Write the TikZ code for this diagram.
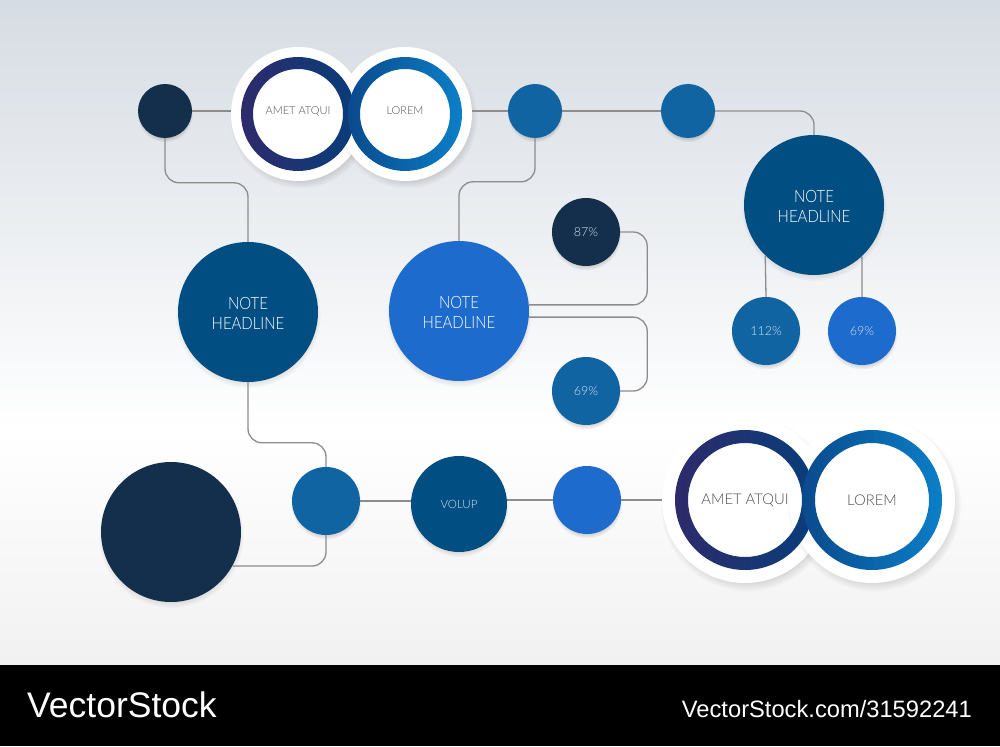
\documentclass[tikz,border=0pt]{standalone}
\usepackage{fontspec}
\setmainfont{Lato Light}
\newfontfamily\wmfont{Liberation Sans}
\usetikzlibrary{shadows,calc}
\definecolor{navy}{HTML}{132F4C}
\definecolor{teal}{HTML}{1064A2}
\definecolor{deep}{HTML}{004E82}
\definecolor{bright}{HTML}{1D6BCD}
\definecolor{conncol}{HTML}{8C8C8C}
\definecolor{bgtop}{HTML}{D6DCE3}
\definecolor{bgbot}{HTML}{F1F1F1}
\definecolor{ringtxt}{HTML}{505050}
\definecolor{pcttxt}{HTML}{D6E4F2}
\definecolor{ringAl}{HTML}{2E2B6B}
\definecolor{ringAr}{HTML}{083D7A}
\definecolor{ringBl}{HTML}{0A4A8D}
\definecolor{ringBr}{HTML}{0B7FC7}
\newcommand{\nh}{\raisebox{-3pt}[\height][\depth]{\scalebox{0.88}[1]{\begin{tabular}{@{}c@{}}NOTE\\[0pt]HEADLINE\end{tabular}}}}
\tikzset{
  dot/.style={circle, fill=#1, draw=none, inner sep=0pt, text=white,
    circular drop shadow={shadow xshift=0pt, shadow yshift=-3pt, shadow scale=1.04, opacity=0.35}},
  halo/.style={circle, fill=white, draw=none, inner sep=0pt,
    circular drop shadow={shadow xshift=2pt, shadow yshift=-4pt, shadow scale=1.05, opacity=0.35}},
  notetext/.style={font=\fontsize{17}{20}\selectfont, align=center},
  pcttext/.style={font=\fontsize{12.5}{14}\selectfont, text=pcttxt},
  conn/.style={draw=conncol, line width=1.3pt, rounded corners=14pt},
}
\begin{document}
\begin{tikzpicture}[x=1pt,y=-1pt]
\useasboundingbox (0,0) rectangle (1000,746);
% background
\fill[top color=bgtop, bottom color=white] (0,0) rectangle (1000,430);
\fill[top color=white, bottom color=bgbot] (0,429) rectangle (1000,665);
\fill[black] (0,665) rectangle (1000,746);

% ---- top pair
\node[halo, minimum size=134] (haloA) at (298,114) {};
\node[halo, minimum size=134] (haloB) at (405,114) {};
\path[left color=ringAl, right color=ringAr, even odd rule]
  (haloA.center) circle[radius=57] (haloA.center) circle[radius=45];
\path[left color=ringBl, right color=ringBr, even odd rule]
  (haloB.center) circle[radius=57] (haloB.center) circle[radius=45];
\node[font=\fontsize{11}{13}\selectfont, text=ringtxt] (tA) at (298,111) {AMET ATQUI};
\node[font=\fontsize{11}{13}\selectfont, text=ringtxt] (tB) at (405,111) {LOREM};

% ---- bottom pair
\node[halo, minimum size=166] (haloC) at (745,500) {};
\node[halo, minimum size=166] (haloD) at (872,500) {};
\path[left color=ringAl, right color=ringAr, even odd rule]
  (haloC.center) circle[radius=70] (haloC.center) circle[radius=57];
\path[left color=ringBl, right color=ringBr, even odd rule]
  (haloD.center) circle[radius=70] (haloD.center) circle[radius=57];
\node[font=\fontsize{14.8}{17}\selectfont, text=ringtxt] (tC) at (745,500) {AMET ATQUI};
\node[font=\fontsize{14.8}{17}\selectfont, text=ringtxt] (tD) at (872,500) {LOREM};

% ---- circles
\node[dot=navy, minimum size=54] (d1) at (165,111) {};
\node[dot=teal, minimum size=54] (m1) at (535,111) {};
\node[dot=teal, minimum size=54] (m2) at (688,111) {};
\node[dot=deep, minimum size=140, notetext] (nr) at (814,205) {\nh};
\node[dot=teal, minimum size=68, pcttext] (p112) at (766,331) {112\%};
\node[dot=bright, minimum size=68, pcttext] (p69r) at (862,331) {69\%};
\node[dot=deep, minimum size=140, notetext] (nl) at (248,312) {\nh};
\node[dot=bright, minimum size=140, notetext] (nm) at (459,311) {\nh};
\node[dot=navy, minimum size=68, pcttext] (p87) at (586,232) {87\%};
\node[dot=teal, minimum size=68, pcttext] (p69m) at (586,391) {69\%};
\node[dot=navy, minimum size=140] (bd) at (171,532) {};
\node[dot=teal, minimum size=68] (p13) at (326,501) {};
\node[dot=deep, minimum size=96, font=\fontsize{11.5}{13}\selectfont, text=pcttxt] (volup) at (459,504) {VOLUP};
\node[dot=bright, minimum size=68] (p15) at (587,500) {};

% ---- connectors
\draw[conn] (d1.east) -- (d1.east -| haloA.west);
\draw[conn] (d1.south) |- ([yshift=59pt]nl.north) -- (nl.north);
\draw[conn] (haloB.east |- m1.west) -- (m1.west);
\draw[conn] (m1.south) |- ([yshift=59pt]nm.north) -- (nm.north);
\draw[conn] (m1.east) -- (m2.west);
\draw[conn] (m2.east) -| (nr.north);
\draw[conn] (nr.226.7) -- (p112.north);
\draw[conn] (nr.313.3) -- (p69r.north);
\draw[conn] (nm.5.7) -| ([xshift=27pt]p87.east) -- (p87.east);
\draw[conn] (nm.-5.7) -| ([xshift=27pt]p69m.east) -- (p69m.east);
\draw[conn] (nl.south) |- ([yshift=24pt]p13.north) -- (p13.north);
\draw[conn] (bd.-29) -| (p13.south);
\draw[conn] (p13.east) -- (p13.east -| volup.west);
\draw[conn] (volup.east |- p15.west) -- (p15.west);
\draw[conn] (p15.east) -- (p15.east -| haloC.west);

% ---- watermark
\node[anchor=base west, inner sep=0pt, text=white] (wm1) at (27,717)
  {\wmfont\fontsize{35.5}{36}\selectfont VectorStock};
\node[anchor=base east, inner sep=0pt, text=white] (wm2) at (972,717)
  {\wmfont\fontsize{23.7}{24}\selectfont VectorStock.com/31592241};
\end{tikzpicture}
\end{document}
